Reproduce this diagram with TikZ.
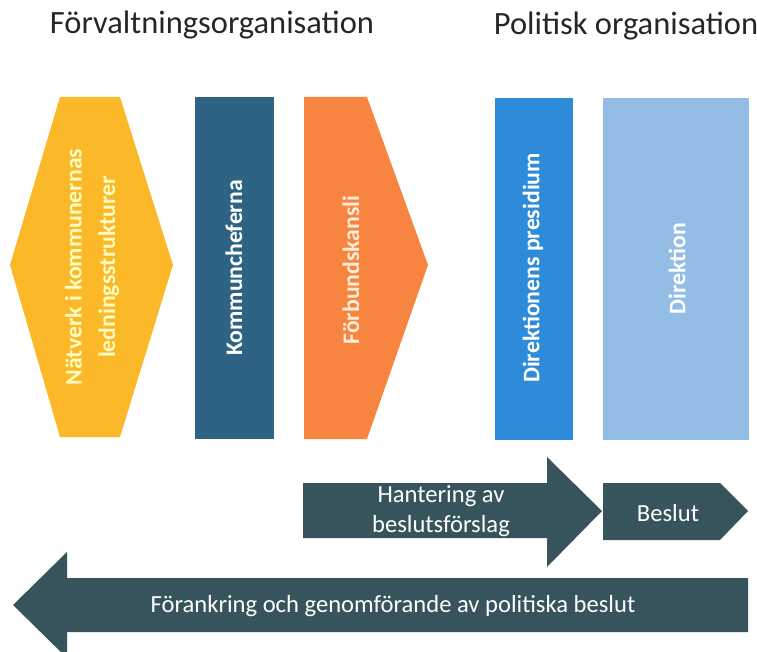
\documentclass[tikz,border=0pt]{standalone}
\usepackage{fontspec}
\setmainfont{Carlito}
\usetikzlibrary{positioning}

\definecolor{natgul}{HTML}{FBB829}
\definecolor{kommunbla}{HTML}{2E6383}
\definecolor{kanslior}{HTML}{F78540}
\definecolor{presbla}{HTML}{2D8BDA}
\definecolor{direkbla}{HTML}{94BDE6}
\definecolor{pilgra}{HTML}{37535C}

\begin{document}
\begin{tikzpicture}
            [
            x = 0.02cm, y = -0.02cm,
            title/.style = {font=\fontsize{18.5}{22}\selectfont, text=black!85},
            boxtext/.style = {rotate=90, font=\fontsize{13.5}{19}\selectfont\bfseries, align=center},
            arrowtext/.style = {font=\fontsize{14}{17}\selectfont, text=white, align=center},
            ]
            \tikzstyle{arrow shape}=[fill=pilgra]
        
            \useasboundingbox (0,0) rectangle (757,652);

            % rubriker
            \node[title] (forv) at (212,25) {Förvaltningsorganisation};
            \node[title] (polit) at (626,26) {Politisk organisation};

            % förvaltning
            \fill[natgul] (60,97) -- (120,97) -- (173,265) -- (120,437) -- (60,437) -- (10,265) -- cycle;
            \node[boxtext, text=yellow!25] (natverk) at (92,267) {Nätverk i kommunernas\\ledningsstrukturer};
            \fill[kommunbla] (195,97) rectangle (274,439);
            \node[boxtext, text=white] (kommun) at (234,268) {Kommuncheferna};
            \fill[kanslior] (304,97) -- (367,97) -- (428,265) -- (367,439) -- (304,439) -- cycle;
            \node[boxtext, text=orange!15] (kansli) at (351,270) {Förbundskansli};

            % politik
            \fill[presbla] (495,98) rectangle (573,440);
            \node[boxtext, text=white] (presidium) at (533,268) {Direktionens presidium};
            \fill[direkbla] (603,98) rectangle (749,440);
            \node[boxtext, text=white] (direktion) at (677,269) {Direktion};

            % pilar
            \fill[arrow shape] (303,483) -- (547,483) -- (547,457) -- (602,511) -- (547,567) -- (547,538) -- (303,538) -- cycle;
            \node[arrowtext] (hantering) at (441,511) {Hantering av\\beslutsförslag};
            \fill[arrow shape] (603,483) -- (720,483) -- (748,511) -- (720,540) -- (603,540) -- cycle;
            \node[arrowtext] (beslut) at (668,513) {Beslut};
            \fill[arrow shape] (13,605) -- (67,552) -- (67,578) -- (748,578) -- (748,632) -- (67,632) -- (67,658) -- cycle;
            \node[arrowtext] (forankring) at (393,606) {Förankring och genomförande av politiska beslut};
        \end{tikzpicture}
\end{document}
